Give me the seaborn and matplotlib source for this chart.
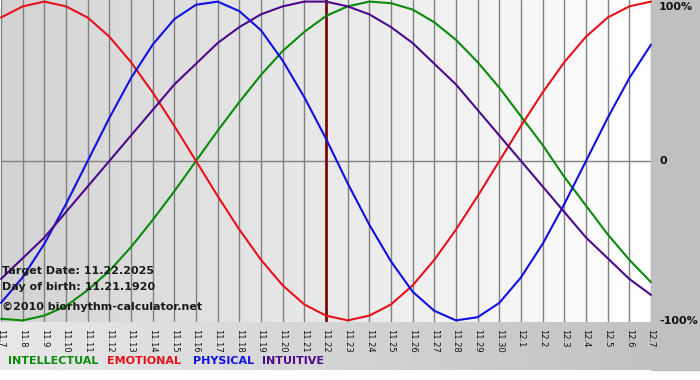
import numpy as np
import pandas as pd
import matplotlib
matplotlib.use("Agg")
import matplotlib.pyplot as plt
from matplotlib.colors import LinearSegmentedColormap
import seaborn as sns

# ---- data ----
dates = ["11.7", "11.8", "11.9", "11.10", "11.11", "11.12", "11.13", "11.14", "11.15",
         "11.16", "11.17", "11.18", "11.19", "11.20", "11.21", "11.22", "11.23", "11.24",
         "11.25", "11.26", "11.27", "11.28", "11.29", "11.30", "12.1", "12.2", "12.3",
         "12.4", "12.5", "12.6", "12.7"]
intellectual = [-0.99, -1.00, -0.97, -0.91, -0.81, -0.69, -0.54, -0.37, -0.19, 0.00,
                0.19, 0.37, 0.54, 0.69, 0.81, 0.91, 0.97, 1.00, 0.99, 0.95,
                0.87, 0.76, 0.62, 0.46, 0.28, 0.10, -0.10, -0.28, -0.46, -0.62, -0.76]
emotional = [0.90, 0.97, 1.00, 0.97, 0.90, 0.78, 0.62, 0.43, 0.22, 0.00,
             -0.22, -0.43, -0.62, -0.78, -0.90, -0.97, -1.00, -0.97, -0.90, -0.78,
             -0.62, -0.43, -0.22, 0.00, 0.22, 0.43, 0.62, 0.78, 0.90, 0.97, 1.00]
physical = [-0.89, -0.73, -0.52, -0.27, 0.00, 0.27, 0.52, 0.73, 0.89, 0.98,
            1.00, 0.94, 0.82, 0.63, 0.40, 0.14, -0.14, -0.40, -0.63, -0.82,
            -0.94, -1.00, -0.98, -0.89, -0.73, -0.52, -0.27, 0.00, 0.27, 0.52, 0.73]
intuitive = [-0.74, -0.61, -0.48, -0.32, -0.16, 0.00, 0.16, 0.32, 0.48, 0.61,
             0.74, 0.84, 0.92, 0.97, 1.00, 1.00, 0.97, 0.92, 0.84, 0.74,
             0.61, 0.48, 0.32, 0.16, 0.00, -0.16, -0.32, -0.48, -0.61, -0.74, -0.84]
series_names = ["INTELLECTUAL", "EMOTIONAL", "PHYSICAL", "INTUITIVE"]
target_label = "11.22"
info_lines = ["Target Date: 11.22.2025", "Day of birth: 11.21.1920", "\u00a92010 biorhythm-calculator.net"]
right_labels = ["100%", "0", "-100%"]
right_values = [1.0, 0.0, -1.0]

colors = {"INTELLECTUAL": "#0a8a0a", "EMOTIONAL": "#e8101a",
          "PHYSICAL": "#1010e0", "INTUITIVE": "#4b0a8c"}

sns.set_style("white")
plt.rcParams["font.family"] = ["DejaVu Sans"]

W, H = 700, 380
fig = plt.figure(figsize=(7, 3.8), dpi=100)
fig.patch.set_facecolor("white")

# figure background band (gradient light -> gray)
bg = fig.add_axes([0, 10 / H, 1, 360 / H], zorder=-10)
grad = np.linspace(0, 1, 256).reshape(1, -1)
bg_cmap = LinearSegmentedColormap.from_list("bg", ["#e8e8e8", "#bfbfbf"])
bg.imshow(grad, aspect="auto", cmap=bg_cmap, extent=[0, 1, 0, 1])
bg.set_axis_off()
# right margin panel
fig.patches.append(plt.Rectangle((651 / W, 10 / H), 49 / W, 370 / H,
                                 transform=fig.transFigure, color="#c0c0c0", zorder=-5))

ax = fig.add_axes([1 / W, 58 / H, 650 / W, 322 / H])
x = np.arange(len(dates))
ylo, yhi = -1.01, 1.01
pa_cmap = LinearSegmentedColormap.from_list("pa", ["#d3d3d3", "#ffffff"])
ax.imshow(grad, aspect="auto", cmap=pa_cmap, extent=[0, len(dates) - 1, ylo, yhi], zorder=0)

df = pd.DataFrame({
    "x": np.tile(x, 4),
    "value": intellectual + emotional + physical + intuitive,
    "series": np.repeat(series_names, len(dates)),
})

for xi in x:
    ax.axvline(xi, color="#808080", lw=1.0, zorder=1)
ax.axhline(0, color="#808080", lw=1.0, zorder=1)
ax.axvline(dates.index(target_label), color="#7a0a0a", lw=2.0, zorder=2)

sns.lineplot(data=df, x="x", y="value", hue="series", hue_order=series_names,
             palette=colors, lw=1.5, legend=False, ax=ax, zorder=3, clip_on=False)

ax.set_xlim(0, len(dates) - 1)
ax.set_ylim(ylo, yhi)
ax.set_xticks(x)
ax.set_xticklabels(dates, rotation=-90, fontsize=6, color="#111111")
ax.tick_params(axis="x", length=3, width=1, color="#808080", pad=2, direction="out")
ax.set_yticks([])
ax.set_xlabel("")
ax.set_ylabel("")
for s in ax.spines.values():
    s.set_visible(False)
ax.set_facecolor("none")

# right-side percent labels
for lab, v in zip(right_labels, right_values):
    ypix = 1.5 + (1 - v) * 159.5
    if v == 1.0:
        ypix = 7
    fig.text(659 / W, 1 - ypix / H, lab, fontsize=8, fontweight="bold",
             color="#111111", va="center", ha="left")

# info text lower-left
for lab, ypix in zip(info_lines, [271.5, 287.5, 306.5]):
    fig.text(2 / W, 1 - ypix / H, lab, fontsize=8, fontweight="bold",
             color="#1a1a1a", va="center", ha="left")

# legend text
for lab, xpix in zip(series_names, [8, 107, 193, 262]):
    fig.text(xpix / W, 1 - 361.5 / H, lab, fontsize=8, fontweight="bold",
             color=colors[lab], va="center", ha="left")

fig.savefig("out.png", dpi=100)
